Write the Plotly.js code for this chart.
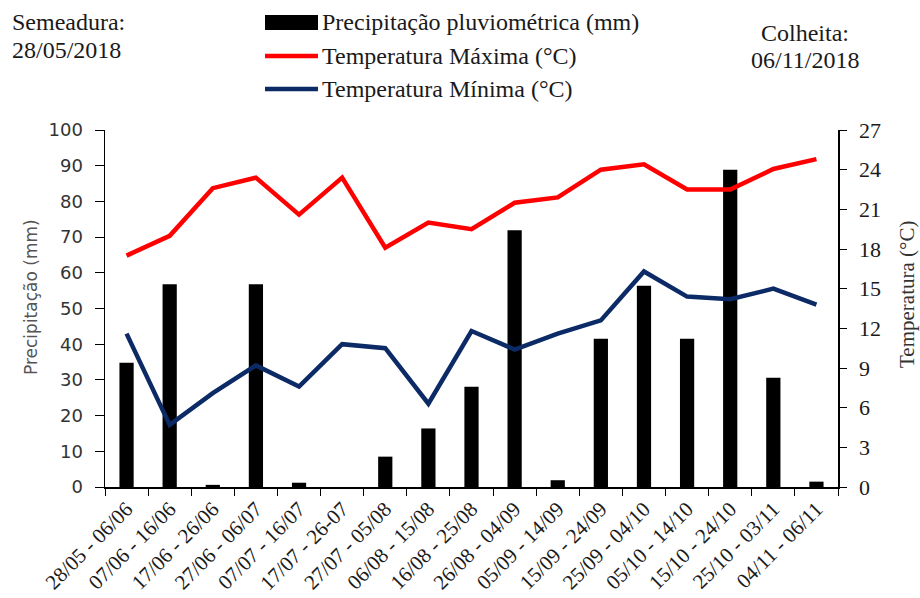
<!DOCTYPE html>
<html><head><meta charset="utf-8">
<script src="https://cdn.plot.ly/plotly-3.0.1.min.js"></script>
<style>body{margin:0;background:#fff}#c{width:920px;height:598px}</style>
</head><body><div id="c"></div>
<script>
const periods = ["28/05 - 06/06","07/06 - 16/06","17/06 - 26/06","27/06 - 06/07","07/07 - 16/07","17/07 - 26-07","27/07 - 05/08","06/08 - 15/08","16/08 - 25/08","26/08 - 04/09","05/09 - 14/09","15/09 - 24/09","25/09 - 04/10","05/10 - 14/10","15/10 - 24/10","25/10 - 03/11","04/11 - 06/11"];
const precip = [34.8,56.8,0.6,56.8,1.2,0,8.5,16.4,28.1,71.9,1.9,41.5,56.4,41.5,88.9,30.6,1.5];
const tmax = [17.5,19.0,22.6,23.4,20.6,23.4,18.1,20.0,19.5,21.5,21.9,24.0,24.4,22.5,22.5,24.05,24.8];
const tmin = [11.6,4.7,7.1,9.2,7.6,10.8,10.5,6.3,11.8,10.4,11.6,12.6,16.3,14.4,14.2,15.0,13.8];
const names = ["Precipitação pluviométrica (mm)","Temperatura Máxima (°C)","Temperatura Mínima (°C)"];
const colors = ["#000000","#ff0000","#0b2a66"];
const F = "Liberation Serif";
const S = "DejaVu Sans";
const tc = "#1a1a1a";

const traces = [
  {type:"bar", x:periods, y:precip, name:names[0], marker:{color:colors[0]}, width:0.33, yaxis:"y"},
  {type:"scatter", mode:"lines", x:periods, y:tmax, name:names[1], line:{color:colors[1], width:4.5}, yaxis:"y2"},
  {type:"scatter", mode:"lines", x:periods, y:tmin, name:names[2], line:{color:colors[2], width:4.5}, yaxis:"y2"}
];

const px = v => (v-105)/733;
const py = v => (487-v)/357;
const legY = [22, 56, 89];
const shapes = [
  {type:"rect", xref:"paper", yref:"paper", x0:px(265), x1:px(318), y0:py(30), y1:py(15), fillcolor:colors[0], line:{width:0}},
  {type:"line", xref:"paper", yref:"paper", x0:px(265), x1:px(318), y0:py(legY[1]), y1:py(legY[1]), line:{color:colors[1], width:4.5}},
  {type:"line", xref:"paper", yref:"paper", x0:px(265), x1:px(318), y0:py(legY[2]), y1:py(legY[2]), line:{color:colors[2], width:4.5}}
];
const txt = (x, y, t, anchor, font) => ({xref:"paper", yref:"paper", x:px(x), y:py(y), text:t, showarrow:false, xanchor:anchor, yanchor:"middle", font:font});
const big = {family:F, size:24, color:tc};
const ann = names.map((n,i)=>txt(320, legY[i], n, "left", big));
ann.push(txt(10, 22, "Semeadura:", "left", big));
ann.push(txt(10, 50, "28/05/2018", "left", big));
ann.push(txt(805, 33, "Colheita:", "center", big));
ann.push(txt(805, 60, "06/11/2018", "center", big));
ann.push(Object.assign(txt(31, 297, "Precipitação (mm)", "center", {family:S, size:17, color:"#555"}), {textangle:-90}));
ann.push(Object.assign(txt(907, 295, "Temperatura (°C)", "center", {family:F, size:21, color:"#333"}), {textangle:-90}));

const layout = {
  width:920, height:598,
  margin:{l:105, r:82, t:130, b:111},
  paper_bgcolor:"#fff", plot_bgcolor:"#fff",
  showlegend:false,
  font:{family:F, color:tc, size:18},
  xaxis:{type:"category", tickson:"boundaries", ticks:"outside", ticklen:7, tickcolor:"#000", showline:true, linecolor:"#000", linewidth:1.5, tickangle:-45, tickfont:{family:F, size:21, color:tc}, showgrid:false, zeroline:false},
  yaxis:{range:[0,100], dtick:10, ticks:"outside", ticklen:9, tickcolor:"#000", showline:true, linecolor:"#000", linewidth:1.5, showgrid:false, zeroline:false, tickfont:{family:S, size:18, color:"#333"}, ticklabelstandoff:8},
  yaxis2:{range:[0,27], dtick:3, overlaying:"y", side:"right", ticks:"outside", ticklen:7, tickcolor:"#000", showline:true, linecolor:"#000", linewidth:1.5, showgrid:false, zeroline:false, tickfont:{family:F, size:22, color:tc}, ticklabelstandoff:8},
  shapes:shapes, annotations:ann
};
Plotly.newPlot("c", traces, layout, {displayModeBar:false, staticPlot:true});
</script></body></html>
